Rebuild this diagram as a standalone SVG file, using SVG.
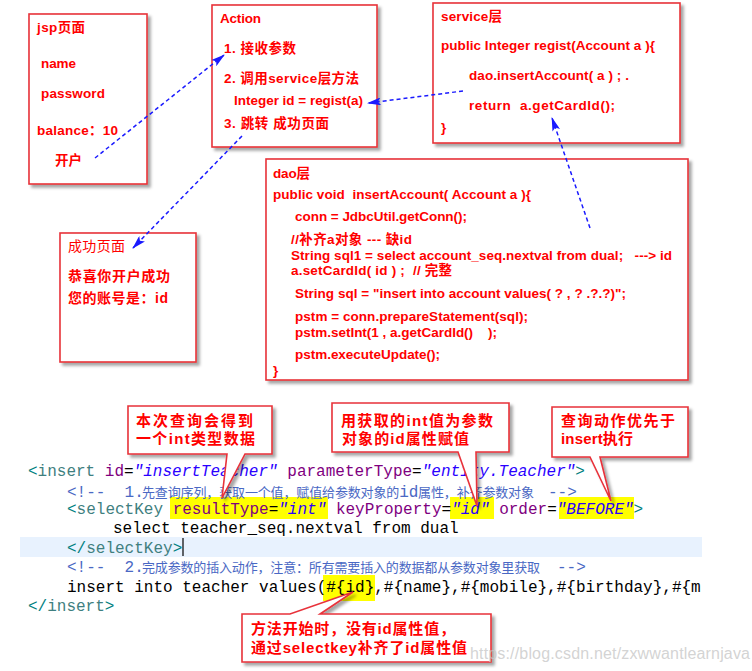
<svg xmlns="http://www.w3.org/2000/svg" width="752" height="671" viewBox="0 0 752 671">
<style>
.box{fill:#fff;stroke:#e8323a;stroke-width:1.6}
.t{font-family:"Liberation Sans","Noto Sans CJK SC",sans-serif;font-weight:bold;font-size:13.5px;fill:#ff0000;white-space:pre}
.tn{font-family:"Liberation Sans","Noto Sans CJK SC",sans-serif;font-weight:normal;font-size:14px;fill:#ff0000}
.co{font-family:"Liberation Sans","Noto Sans CJK SC",sans-serif;font-weight:bold;font-size:15px;fill:#ff0000}
.call{fill:#fff;stroke:#e8323a;stroke-width:1.6}
.m{font-family:"Liberation Mono","DejaVu Sans Mono",monospace;font-size:16px}
.tg{fill:#3f7f7f}
.br{fill:#008080}
.at{fill:#7f007f}
.va{fill:#2a00ff;font-style:italic}
.k{fill:#000}
.cm{fill:#4a68c4}
.cz{font-family:"Noto Sans CJK SC",sans-serif;font-size:13px;fill:#4a68c4}
.hl{fill:#ffff00}
.arr{fill:none;stroke:#1a1aff;stroke-width:1.5;stroke-dasharray:4 3}
</style>
<defs>
<filter id="sh" x="-10%" y="-10%" width="125%" height="125%">
<feDropShadow dx="3" dy="3" stdDeviation="1.5" flood-color="#000" flood-opacity="0.35"/>
</filter>
<marker id="ah" viewBox="0 0 14 8" refX="13" refY="4" markerWidth="14" markerHeight="8" markerUnits="userSpaceOnUse" orient="auto">
<path d="M0,0 L14,4 L0,8 L3,4 Z" fill="#1a1aff"/>
</marker>
</defs>
<rect width="752" height="671" fill="#fff"/>

<g id="jsp">
<rect class="box" x="29" y="14" width="118" height="170" filter="url(#sh)"/>
<text class="t" x="37" y="32" textLength="48">jsp页面</text>
<text class="t" x="41" y="68" textLength="35">name</text>
<text class="t" x="41" y="98" textLength="64">password</text>
<text class="t" x="37" y="135" textLength="81">balance：10</text>
<text class="t" x="55" y="165" textLength="27">开户</text>
</g>

<g id="action">
<rect class="box" x="212" y="5" width="165" height="142" filter="url(#sh)"/>
<text class="t" x="220" y="23" textLength="41">Action</text>
<text class="t" x="224" y="53" textLength="72">1. 接收参数</text>
<text class="t" x="224" y="83" textLength="135">2. 调用service层方法</text>
<text class="t" x="234" y="105" textLength="129">Integer id = regist(a)</text>
<text class="t" x="224" y="128" textLength="105" xml:space="preserve">3. 跳转 成功页面</text>
</g>

<g id="service">
<rect class="box" x="433" y="3" width="247" height="140" filter="url(#sh)"/>
<text class="t" x="441" y="21" textLength="61">service层</text>
<text class="t" x="441" y="50" textLength="214">public Integer regist(Account a ){</text>
<text class="t" x="469" y="80" textLength="160" xml:space="preserve">dao.insertAccount( a ) ; .</text>
<text class="t" x="469" y="110" textLength="146" xml:space="preserve">return  a.getCardId();</text>
<text class="t" x="441" y="132">}</text>
</g>

<g id="dao">
<rect class="box" x="266" y="159" width="422" height="221" filter="url(#sh)"/>
<text class="t" x="273" y="178" textLength="37">dao层</text>
<text class="t" x="273" y="199" textLength="258" xml:space="preserve">public void  insertAccount( Account a ){</text>
<text class="t" x="295" y="221" textLength="172">conn = JdbcUtil.getConn();</text>
<text class="t" x="291" y="244" textLength="121">//补齐a对象 --- 缺id</text>
<text class="t" x="291" y="260" textLength="381" xml:space="preserve">String sql1 = select account_seq.nextval from dual;   ---&gt; id</text>
<text class="t" x="291" y="275" textLength="161" xml:space="preserve">a.setCardId( id ) ;  // 完整</text>
<text class="t" x="295" y="298" textLength="331">String sql = "insert into account values( ? , ? .?.?)";</text>
<text class="t" x="295" y="321" textLength="233">pstm = conn.prepareStatement(sql);</text>
<text class="t" x="295" y="337" textLength="202" xml:space="preserve">pstm.setInt(1 , a.getCardId()    );</text>
<text class="t" x="295" y="359" textLength="145">pstm.executeUpdate();</text>
<text class="t" x="273" y="375">}</text>
</g>

<g id="success">
<rect class="box" x="60" y="233" width="136" height="129" filter="url(#sh)"/>
<text class="tn" x="68" y="251" textLength="57">成功页面</text>
<text class="tn" x="68" y="281" textLength="102" style="font-weight:bold">恭喜你开户成功</text>
<text class="tn" x="68" y="303" textLength="100" style="font-weight:bold">您的账号是：id</text>
</g>

<g id="connectors">
<line class="arr" x1="95" y1="158" x2="224" y2="55" marker-end="url(#ah)"/>
<line class="arr" x1="463" y1="91" x2="368" y2="103" marker-end="url(#ah)"/>
<line class="arr" x1="242" y1="136" x2="133" y2="248" marker-end="url(#ah)"/>
<line class="arr" x1="590" y1="228" x2="552" y2="118" marker-end="url(#ah)"/>
</g>

<g id="code">
<rect x="20" y="537" width="682" height="20" fill="#e8f2fe"/>
<rect class="hl" x="170" y="497" width="158" height="22"/>
<rect class="hl" x="450" y="497" width="44" height="22"/>
<rect class="hl" x="559" y="497" width="75" height="22"/>
<rect class="hl" x="323" y="575" width="52" height="26"/>
<text class="m" x="28" y="476" xml:space="preserve"><tspan class="br">&lt;</tspan><tspan class="tg">insert</tspan> <tspan class="at">id</tspan><tspan class="k">=</tspan><tspan class="va">"insertTeacher"</tspan> <tspan class="at">parameterType</tspan><tspan class="k">=</tspan><tspan class="va">"entity.Teacher"</tspan><tspan class="br">&gt;</tspan></text>
<text class="m cm" x="67" y="497" xml:space="preserve">&lt;!--  1.</text>
<text class="cz" x="142" y="497" textLength="392">先查询序列，获取一个值，赋值给参数对象的<tspan class="m cm">id</tspan>属性，补齐参数对象</text>
<text class="m cm" x="548" y="497">--&gt;</text>
<text class="m" x="67" y="514" xml:space="preserve"><tspan class="br">&lt;</tspan><tspan class="tg">selectKey</tspan> <tspan class="at">resultType</tspan><tspan class="k">=</tspan><tspan class="va">"int"</tspan> <tspan class="at">keyProperty</tspan><tspan class="k">=</tspan><tspan class="va">"id"</tspan> <tspan class="at">order</tspan><tspan class="k">=</tspan><tspan class="va">"BEFORE"</tspan><tspan class="br">&gt;</tspan></text>
<text class="m k" x="113" y="533">select teacher_seq.nextval from dual</text>
<text class="m" x="67" y="553"><tspan class="br">&lt;/</tspan><tspan class="tg">selectKey</tspan><tspan class="br">&gt;</tspan></text>
<line x1="183" y1="538" x2="183" y2="556" stroke="#000" stroke-width="1.2"/>
<text class="m cm" x="67" y="572" xml:space="preserve">&lt;!--  2.</text>
<text class="cz" x="142" y="572" textLength="398">完成参数的插入动作，注意：所有需要插入的数据都从参数对象里获取</text>
<text class="m cm" x="557" y="572">--&gt;</text>
<text class="m k" x="67" y="592">insert into teacher values(#{id},#{name},#{mobile},#{birthday},#{m</text>
<text class="m" x="28" y="611"><tspan class="br">&lt;/</tspan><tspan class="tg">insert</tspan><tspan class="br">&gt;</tspan></text>
</g>

<g id="callout1">
<path class="call" d="M128,406 H272 V454 H245 L222,498 L227,454 H128 Z" filter="url(#sh)"/>
<text class="co" x="136" y="426" textLength="117">本次查询会得到</text>
<text class="co" x="136" y="444" textLength="119">一个int类型数据</text>
</g>

<g id="callout2">
<path class="call" d="M332,403 H509 V452 H476 L477,506 L458,452 H332 Z" filter="url(#sh)"/>
<text class="co" x="341" y="426" textLength="152">用获取的int值为参数</text>
<text class="co" x="342" y="444" textLength="127">对象的id属性赋值</text>
</g>

<g id="callout3">
<path class="call" d="M552,407 H688 V457 H600 L611,501 L590,457 H552 Z" filter="url(#sh)"/>
<text class="co" x="561" y="426" textLength="114">查询动作优先于</text>
<text class="co" x="561" y="444" textLength="72">insert执行</text>
</g>

<g id="callout4">
<path class="call" d="M242,614 H290 L353,592 L320,614 H491 V662 H242 Z" filter="url(#sh)"/>
<text class="co" x="251" y="634" textLength="204">方法开始时，没有id属性值，</text>
<text class="co" x="251" y="653" textLength="216">通过selectkey补齐了id属性值</text>
</g>

<text x="470" y="659" font-family="Liberation Sans,sans-serif" font-size="16" fill="#c8c8c8" fill-opacity="0.8" textLength="280">https://blog.csdn.net/zxwwantlearnjava</text>
</svg>
